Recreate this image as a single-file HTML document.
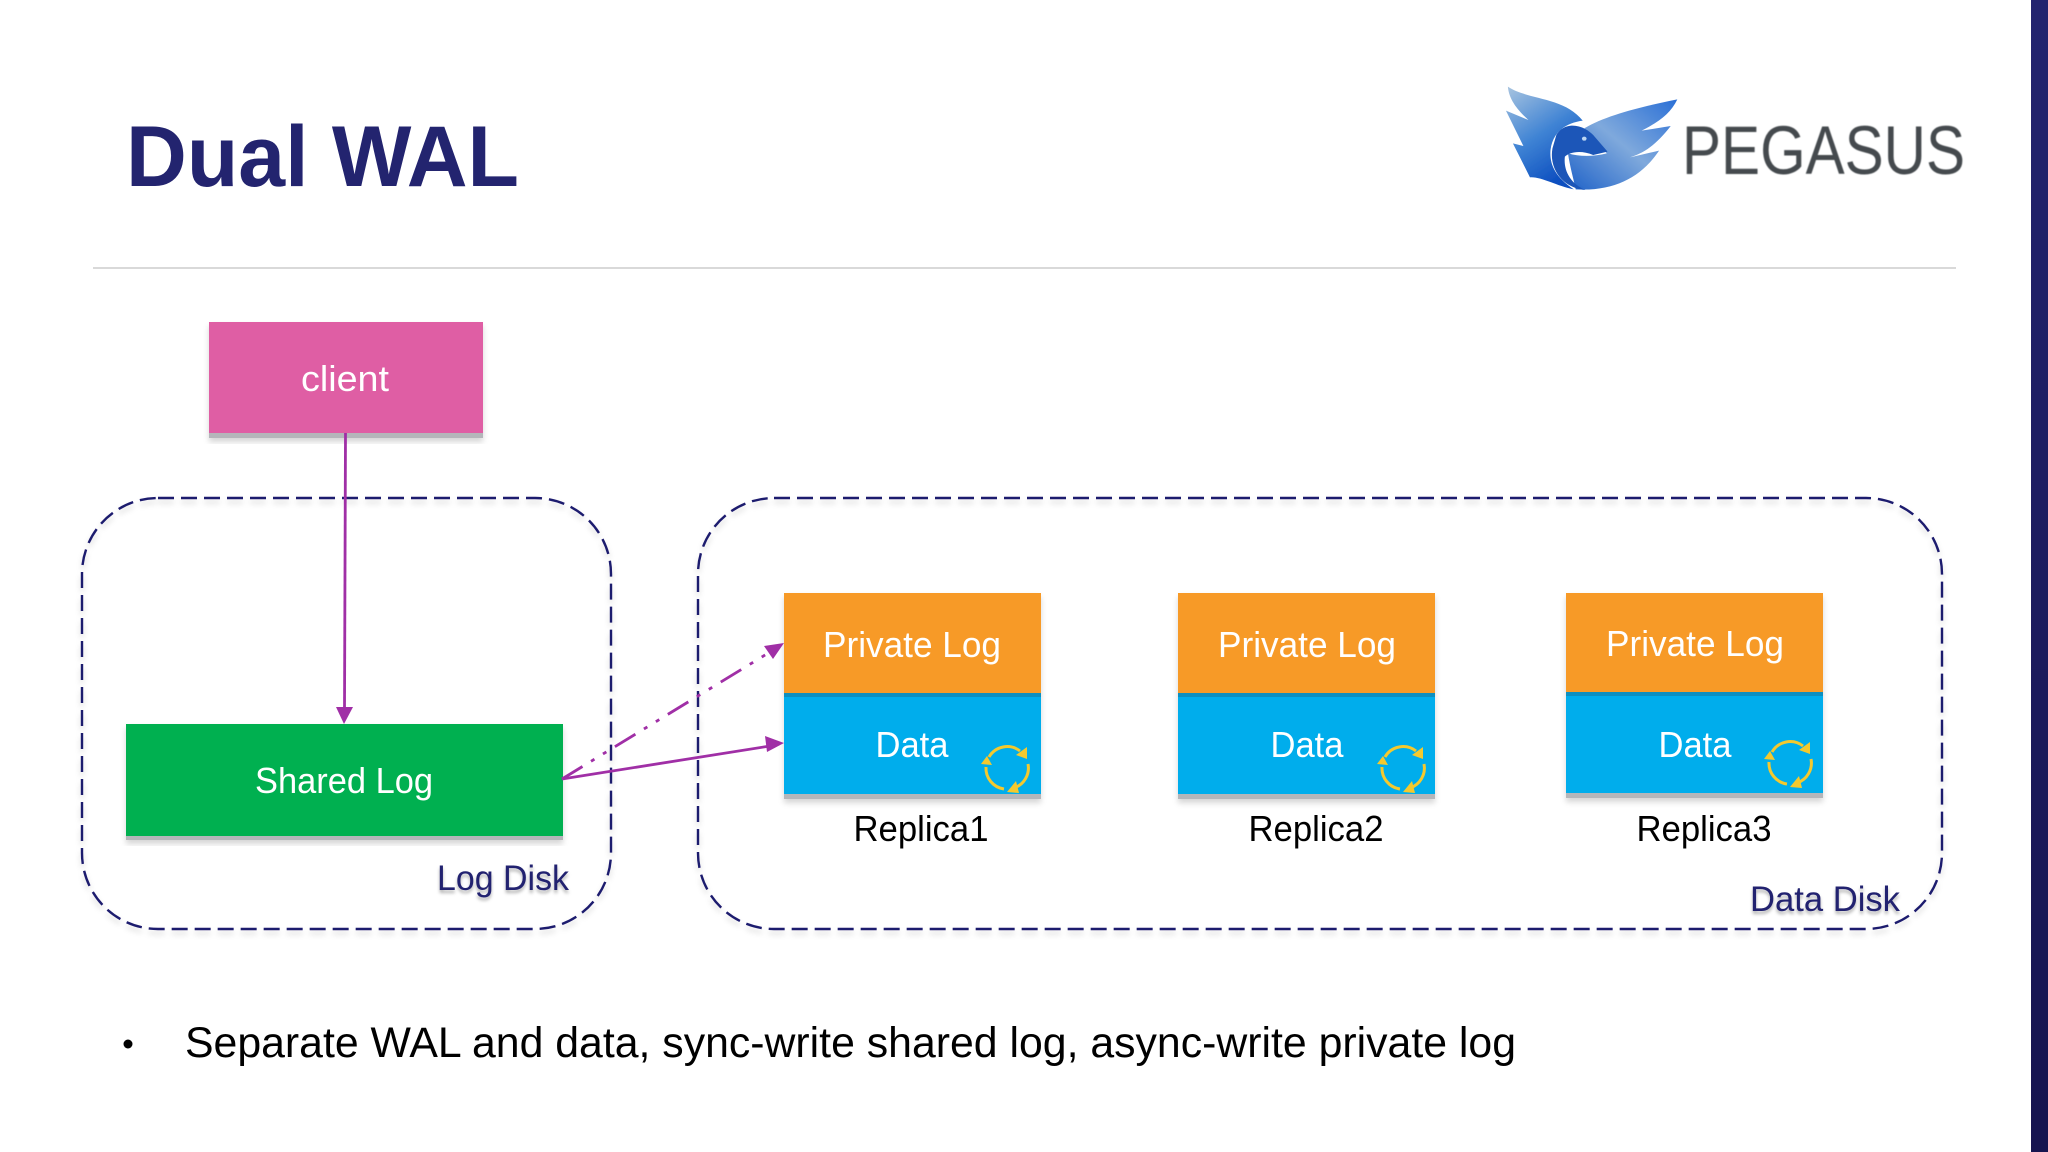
<!DOCTYPE html>
<html>
<head>
<meta charset="utf-8">
<style>
html,body{margin:0;padding:0;background:#fff;width:2048px;height:1152px;overflow:hidden}
svg{display:block}
text{font-family:"Liberation Sans","Noto Sans CJK SC",sans-serif}
</style>
</head>
<body>
<svg width="2048" height="1152" viewBox="0 0 2048 1152" xmlns="http://www.w3.org/2000/svg">
<defs>
<linearGradient id="bar" x1="0" y1="0" x2="0" y2="1"><stop offset="0" stop-color="#23246f"/><stop offset="1" stop-color="#16144f"/></linearGradient>
<linearGradient id="wl" x1="0" y1="0" x2="0.5" y2="1"><stop offset="0" stop-color="#a9c5e0"/><stop offset=".55" stop-color="#3f83d4"/><stop offset="1" stop-color="#0d4fc0"/></linearGradient>
<linearGradient id="wr" x1="1" y1="0" x2="0" y2="1"><stop offset="0" stop-color="#2a6fd6"/><stop offset=".5" stop-color="#7fa9dc"/><stop offset="1" stop-color="#1f62c8"/></linearGradient>
<filter id="soft" x="-20%" y="-20%" width="140%" height="140%"><feGaussianBlur stdDeviation="0.8"/></filter>
<filter id="ds" x="-5%" y="-5%" width="110%" height="110%"><feDropShadow dx="0" dy="4" stdDeviation="3" flood-color="#000" flood-opacity=".16"/></filter>
<filter id="ts" x="-10%" y="-20%" width="120%" height="150%"><feDropShadow dx="0" dy="3" stdDeviation="1.5" flood-color="#000" flood-opacity=".3"/></filter>
<g id="cyc" fill="none" stroke="#f4c92e" stroke-width="3">
  <path d="M-18,-11 A21,21 0 0 1 13,-17"/>
  <path d="M21,-4 A21,21 0 0 1 7,20"/>
  <path d="M-3,21 A21,21 0 0 1 -21,-1"/>
  <path d="M20,-21 L20,-9 L9,-13 Z" fill="#f4c92e" stroke="none"/>
  <path d="M9,13 L12,25 L0,24 Z" fill="#f4c92e" stroke="none"/>
  <path d="M-26,-4 L-15,-3 L-20,-12 Z" fill="#f4c92e" stroke="none"/>
</g>
</defs>

<rect width="2048" height="1152" fill="#fff"/>
<rect x="2031" y="0" width="17" height="1152" fill="url(#bar)"/>

<text x="126" y="186" font-size="86" font-weight="700" fill="#23246f" textLength="393" lengthAdjust="spacingAndGlyphs">Dual WAL</text>
<line x1="93" y1="268" x2="1956" y2="268" stroke="#d9d9d9" stroke-width="2"/>

<!-- logo -->
<g transform="translate(1440,60) scale(.3878,.3333)" filter="url(#soft)">
  <path d="M175,80 C225,120 320,110 368,182 C320,190 290,220 285,270 C282,310 295,350 345,388 C300,378 262,350 232,352 L188,250 L215,258 L170,152 L228,180 C200,150 178,120 175,80 Z" fill="url(#wl)"/>
  <path d="M612,118 C520,140 430,165 372,205 L430,280 C395,290 360,290 330,280 C335,320 345,360 350,388 C450,395 520,350 565,272 L490,292 C530,278 560,250 595,198 L520,212 C565,185 595,160 612,118 Z" fill="url(#wr)"/>
  <path d="M300,225 C320,185 365,190 395,225 L432,275 L395,285 C365,270 335,275 322,290 C318,330 335,370 375,390 C320,385 280,330 290,265 Z" fill="#1a56b8"/>
  <circle cx="372" cy="236" r="6" fill="#bcd6f2"/>
</g>
<text x="1682" y="174" font-size="69" fill="#454a4e" textLength="283" lengthAdjust="spacingAndGlyphs" style="filter:blur(.4px)">PEGASUS</text>

<!-- dashed containers -->
<g fill="none" stroke="#1e1a6e" stroke-width="2.4" stroke-dasharray="16 7" filter="url(#ds)">
  <rect x="82" y="498" width="529" height="431" rx="76" ry="76"/>
  <rect x="698" y="498" width="1244" height="431" rx="76" ry="76"/>
</g>

<!-- client -->
<rect x="209" y="322" width="274" height="116" fill="#b4b6ba" filter="url(#ds)"/>
<rect x="209" y="322" width="274" height="111" fill="#df5ea4"/>
<text x="345" y="391" font-size="36" fill="#fff" text-anchor="middle" textLength="88" lengthAdjust="spacingAndGlyphs">client</text>

<!-- shared log -->
<rect x="126" y="724" width="437" height="116" fill="#b4b6ba" filter="url(#ds)"/>
<rect x="126" y="724" width="437" height="112" fill="#00b050"/>
<text x="344" y="793" font-size="36" fill="#fff" text-anchor="middle" textLength="178" lengthAdjust="spacingAndGlyphs">Shared Log</text>

<!-- replica 1 -->
<g>
  <rect x="784" y="593" width="257" height="206" fill="#b4b6ba" filter="url(#ds)"/>
  <rect x="784" y="593" width="257" height="100" fill="#f79a27"/>
  <rect x="784" y="693" width="257" height="101" fill="#00adec"/>
  <rect x="784" y="693" width="257" height="4" fill="#0c8fc0"/>
  <text x="912" y="657" font-size="36" fill="#fff" text-anchor="middle" textLength="178" lengthAdjust="spacingAndGlyphs">Private Log</text>
  <text x="912" y="757" font-size="36" fill="#fff" text-anchor="middle" textLength="73" lengthAdjust="spacingAndGlyphs">Data</text>
  <use href="#cyc" transform="translate(1007,768)"/>
  <text x="921" y="841" font-size="36" fill="#000" text-anchor="middle" textLength="135" lengthAdjust="spacingAndGlyphs">Replica1</text>
</g>
<!-- replica 2 -->
<g>
  <rect x="1178" y="593" width="257" height="206" fill="#b4b6ba" filter="url(#ds)"/>
  <rect x="1178" y="593" width="257" height="100" fill="#f79a27"/>
  <rect x="1178" y="693" width="257" height="101" fill="#00adec"/>
  <rect x="1178" y="693" width="257" height="4" fill="#0c8fc0"/>
  <text x="1307" y="657" font-size="36" fill="#fff" text-anchor="middle" textLength="178" lengthAdjust="spacingAndGlyphs">Private Log</text>
  <text x="1307" y="757" font-size="36" fill="#fff" text-anchor="middle" textLength="73" lengthAdjust="spacingAndGlyphs">Data</text>
  <use href="#cyc" transform="translate(1403,768)"/>
  <text x="1316" y="841" font-size="36" fill="#000" text-anchor="middle" textLength="135" lengthAdjust="spacingAndGlyphs">Replica2</text>
</g>
<!-- replica 3 -->
<g>
  <rect x="1566" y="593" width="257" height="205" fill="#b4b6ba" filter="url(#ds)"/>
  <rect x="1566" y="593" width="257" height="99" fill="#f79a27"/>
  <rect x="1566" y="692" width="257" height="101" fill="#00adec"/>
  <rect x="1566" y="692" width="257" height="4" fill="#0c8fc0"/>
  <text x="1695" y="656" font-size="36" fill="#fff" text-anchor="middle" textLength="178" lengthAdjust="spacingAndGlyphs">Private Log</text>
  <text x="1695" y="757" font-size="36" fill="#fff" text-anchor="middle" textLength="73" lengthAdjust="spacingAndGlyphs">Data</text>
  <use href="#cyc" transform="translate(1790,763)"/>
  <text x="1704" y="841" font-size="36" fill="#000" text-anchor="middle" textLength="135" lengthAdjust="spacingAndGlyphs">Replica3</text>
</g>

<!-- connectors -->
<g stroke="#a02fa6" stroke-width="2.8" fill="none">
  <line x1="345.500" y1="433" x2="344.500" y2="708"/>
  <line x1="562" y1="779" x2="770" y2="746"/>
  <line x1="562" y1="779" x2="770" y2="652" stroke-dasharray="24 10 4 10 4 10"/>
</g>
<g fill="#a02fa6">
  <path d="M344,724 L336,707 L353,707 Z"/>
  <path d="M784,743 L767,752 L765,736 Z"/>
  <path d="M784,643 L773,659 L764,646 Z"/>
</g>

<!-- disk labels -->
<text x="437" y="890" font-size="35" fill="#23246f" textLength="132" lengthAdjust="spacingAndGlyphs" filter="url(#ts)">Log Disk</text>
<text x="1750" y="911" font-size="35" fill="#23246f" textLength="150" lengthAdjust="spacingAndGlyphs" filter="url(#ts)">Data Disk</text>

<!-- bullet -->
<circle cx="128" cy="1044" r="4.500" fill="#000"/>
<text x="185" y="1057" font-size="43" fill="#000" textLength="1331" lengthAdjust="spacingAndGlyphs">Separate WAL and data, sync-write shared log, async-write private log</text>
</svg>
</body>
</html>
